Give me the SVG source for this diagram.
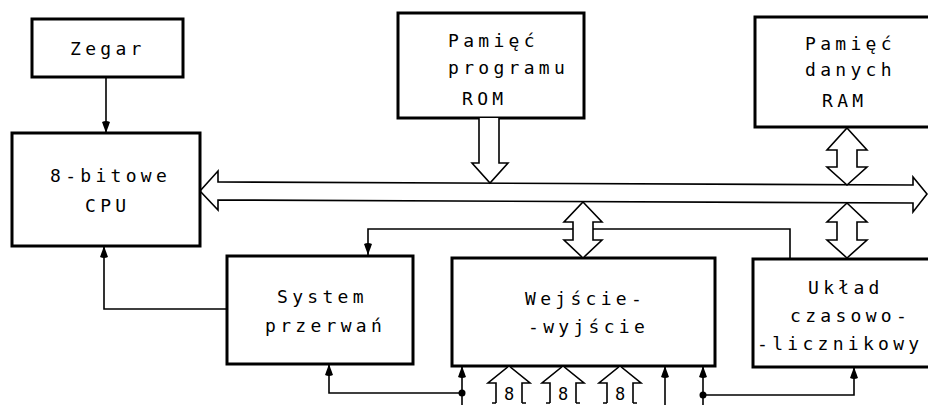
<svg xmlns="http://www.w3.org/2000/svg" width="928" height="405" viewBox="0 0 928 405">
<style>
.box{fill:#fff;stroke:#000;stroke-width:3}
.t{font-family:"DejaVu Sans Mono","Liberation Mono",monospace;font-size:18px;letter-spacing:4.3px;fill:#000}
.c{fill:none;stroke:#000;stroke-width:1.6}
.h{fill:#fff;stroke:#000;stroke-width:1.6;stroke-linejoin:miter}
.d{fill:#000}
.n{font-family:"DejaVu Sans Mono","Liberation Mono",monospace;font-size:17px;fill:#000;text-anchor:middle}
</style>
<defs>
<marker id="ah" markerUnits="userSpaceOnUse" markerWidth="14" markerHeight="12" viewBox="-12 -6 14 12" refX="0" refY="0" orient="auto">
<path d="M0,0 L-11,-4 Q-13,0 -11,4 Z" fill="#000"/>
</marker>
</defs>

<g id="bus">
<path class="h" d="M200,191 L218,171 L218,182 L913,185 L913,177 L927,194 L913,212 L913,203 L218,200 L218,210 Z"/>
</g>

<g id="zegar">
<rect class="box" x="32" y="19" width="151" height="58"/>
<text class="t" x="70" y="55">Zegar</text>
</g>

<g id="cpu">
<rect class="box" x="12" y="133" width="188" height="113"/>
<text class="t" x="50" y="182">8-bitowe</text>
<text class="t" x="85" y="212">CPU</text>
</g>

<g id="rom">
<rect class="box" x="398" y="13" width="186" height="105"/>
<text class="t" x="448" y="47">Pamięć</text>
<text class="t" x="448" y="74">programu</text>
<text class="t" x="462" y="105">ROM</text>
</g>

<g id="ram">
<rect class="box" x="755" y="17" width="190" height="110"/>
<text class="t" x="805" y="50">Pamięć</text>
<text class="t" x="805" y="76">danych</text>
<text class="t" x="822" y="107">RAM</text>
</g>

<g id="przerwania">
<rect class="box" x="227" y="256" width="186" height="108"/>
<text class="t" x="277" y="303">System</text>
<text class="t" x="265" y="332">przerwań</text>
</g>

<g id="we-wy">
<rect class="box" x="452" y="258" width="263" height="108"/>
<text class="t" x="525" y="305">Wejście-</text>
<text class="t" x="528" y="333">-wyjście</text>
</g>

<g id="licznik">
<rect class="box" x="753" y="259" width="190" height="108"/>
<text class="t" x="808" y="294">Układ</text>
<text class="t" x="790" y="322">czasowo-</text>
<text class="t" x="757" y="350">-licznikowy</text>
</g>

<g id="connectors">
<path class="h" d="M479,118 L479,163 L472,163 L490,183 L508,163 L499,163 L499,118"/>
<path class="h" d="M847,128 L867,150 L857,150 L857,167 L867,167 L847,185 L827,167 L837,167 L837,150 L827,150 Z"/>
<path class="h" d="M847,203 L867,222 L857,222 L857,240 L867,240 L847,258 L827,240 L837,240 L837,222 L827,222 Z"/>
<path class="h" d="M583,202 L602,222 L593,222 L593,240 L602,240 L583,258 L564,240 L573,240 L573,222 L564,222 Z"/>

<path class="c" d="M106,77 L106,133" marker-end="url(#ah)"/>
<path class="c" d="M573,229 L368,229 L368,255" marker-end="url(#ah)"/>
<path class="c" d="M593,229 L790,229 L790,259"/>
<path class="c" d="M227,309 L104,309 L104,246" marker-end="url(#ah)"/>
<path class="c" d="M462,405 L462,366" marker-end="url(#ah)"/>
<path class="c" d="M462,393 L329,393 L329,364" marker-end="url(#ah)"/>
<path class="c" d="M665,405 L665,366" marker-end="url(#ah)"/>
<path class="c" d="M703,405 L703,366" marker-end="url(#ah)"/>
<path class="c" d="M703,395 L854,395 L854,367" marker-end="url(#ah)"/>
<circle class="d" cx="462" cy="393" r="3.5"/>
<circle class="d" cx="703" cy="395" r="3.5"/>

<path class="h" d="M496,403 L496,383 L488,383 L509,366 L530,383 L522,383 L522,403"/>
<path class="c" d="M492,403 L496,403 M522,403 L526,403"/>
<text class="n" x="509" y="400">8</text>
<path class="h" d="M550,403 L550,383 L542,383 L563,366 L584,383 L576,383 L576,403"/>
<path class="c" d="M546,403 L550,403 M576,403 L580,403"/>
<text class="n" x="563" y="400">8</text>
<path class="h" d="M607,403 L607,383 L599,383 L620,366 L641,383 L633,383 L633,403"/>
<path class="c" d="M603,403 L607,403 M633,403 L637,403"/>
<text class="n" x="620" y="400">8</text>
</g>
</svg>
